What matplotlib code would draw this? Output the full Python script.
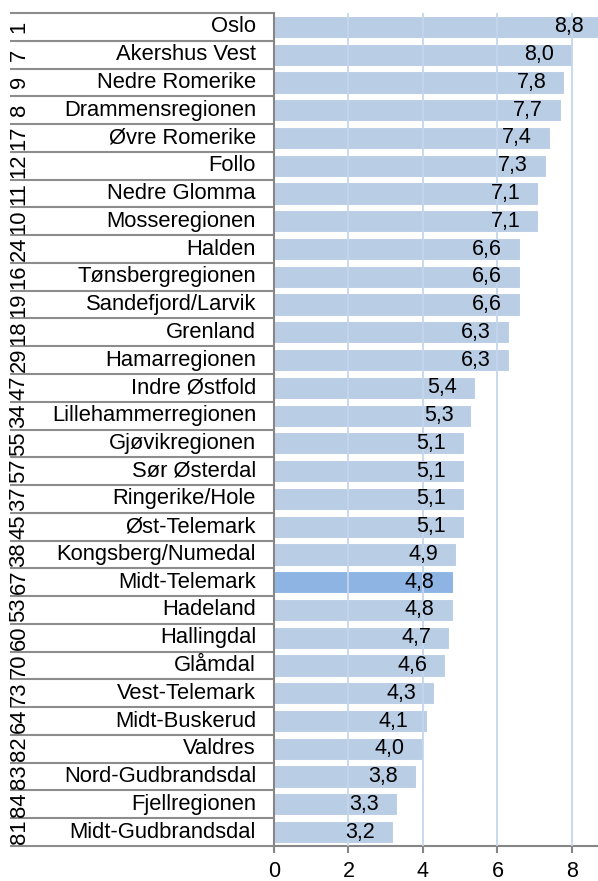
import matplotlib

matplotlib.use("Agg")
import matplotlib.pyplot as plt
from matplotlib.transforms import blended_transform_factory

plt.rcParams["font.family"] = ["Liberation Sans", "DejaVu Sans"]

ranks = [1, 7, 9, 8, 17, 12, 11, 10, 24, 16, 19, 18, 29, 47, 34,
         55, 57, 37, 45, 38, 67, 53, 60, 70, 73, 64, 82, 83, 84, 81]
regions = [
    "Oslo", "Akershus Vest", "Nedre Romerike", "Drammensregionen",
    "Øvre Romerike", "Follo", "Nedre Glomma", "Mosseregionen", "Halden",
    "Tønsbergregionen", "Sandefjord/Larvik", "Grenland", "Hamarregionen",
    "Indre Østfold", "Lillehammerregionen", "Gjøvikregionen", "Sør Østerdal",
    "Ringerike/Hole", "Øst-Telemark", "Kongsberg/Numedal", "Midt-Telemark",
    "Hadeland", "Hallingdal", "Glåmdal", "Vest-Telemark", "Midt-Buskerud",
    "Valdres", "Nord-Gudbrandsdal", "Fjellregionen", "Midt-Gudbrandsdal",
]
values = [8.8, 8.0, 7.8, 7.7, 7.4, 7.3, 7.1, 7.1, 6.6, 6.6, 6.6, 6.3, 6.3,
          5.4, 5.3, 5.1, 5.1, 5.1, 5.1, 4.9, 4.8, 4.8, 4.7, 4.6, 4.3, 4.1,
          4.0, 3.8, 3.3, 3.2]
highlight = "Midt-Telemark"

W, H = 598, 881
FS = 15.8
fig = plt.figure(figsize=(W / 100, H / 100), dpi=100)
ax = fig.add_axes([274 / W, 1 - 846 / H, (598 - 274) / W, (846 - 13) / H])

n = len(values)
ypos = list(range(n))
colors = ["#8eb4e3" if r == highlight else "#b9cde5" for r in regions]
ax.barh(ypos, values, height=0.8, color=colors, edgecolor="white",
        linewidth=0.8, zorder=2)

ax.set_xlim(0, 8.70)
ax.set_ylim(n - 0.5, -0.5)

# gridlines on top of the bars, like the original
for gx in [2, 4, 6, 8]:
    ax.axvline(gx, color="#c4d6ed", linewidth=1.3, zorder=3)

for y, v in zip(ypos, values):
    ax.annotate(f"{v:.1f}".replace(".", ","), xy=(v, y), xytext=(-13, 0),
                textcoords="offset points", ha="right", va="center",
                fontsize=FS - 0.3, annotation_clip=False, zorder=4)

# category labels (multi-level: rank + region)
tr = blended_transform_factory(fig.transFigure, ax.transData)
for y, rank, name in zip(ypos, ranks, regions):
    ax.text(256 / W, y, name, transform=tr, ha="right", va="center",
            fontsize=FS)
    ax.text(19 / W, y, str(rank), transform=tr, ha="center", va="center",
            fontsize=FS, rotation=90)

for b in range(n + 1):
    ax.plot([10 / W, 274 / W], [b - 0.5, b - 0.5], transform=tr,
            color="#8c8c8c", linewidth=1.5, clip_on=False,
            solid_capstyle="butt")

for s in ["top", "right"]:
    ax.spines[s].set_visible(False)
for s in ["left", "bottom"]:
    ax.spines[s].set_color("#868686")
    ax.spines[s].set_linewidth(1.5)

ax.set_yticks([])
ax.set_xticks([0, 2, 4, 6, 8])
ax.tick_params(axis="x", length=5, width=1.5, color="#868686",
               labelsize=FS - 0.3, pad=6)

fig.savefig("out.png", dpi=100)
